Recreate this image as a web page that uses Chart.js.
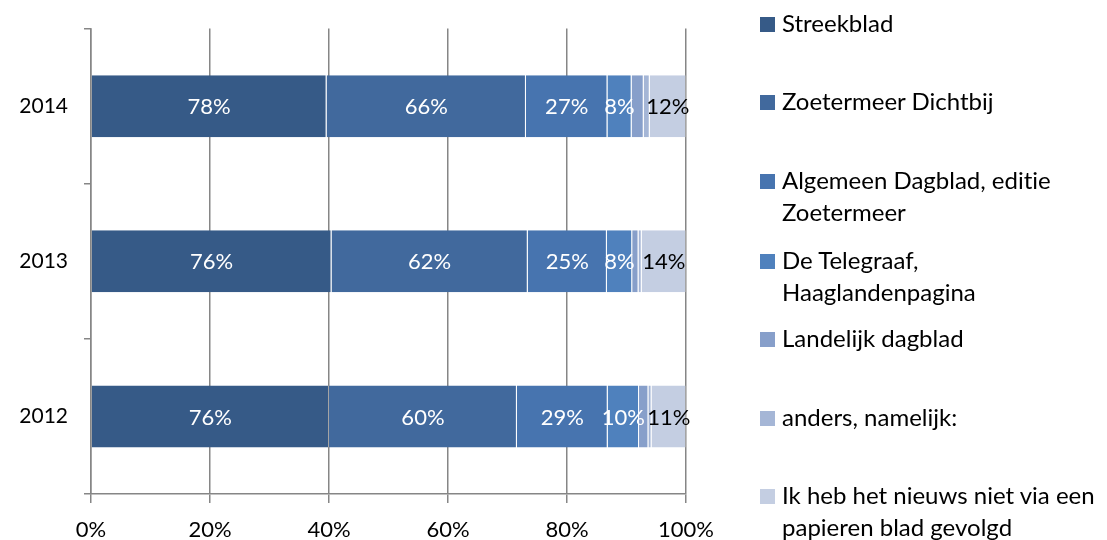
<!DOCTYPE html>
<html><head><meta charset="utf-8">
<script src="https://cdn.jsdelivr.net/npm/chart.js@4/dist/chart.umd.min.js"></script>
<style>
html,body{margin:0;padding:0;background:#fff;}
#wrap{position:relative;width:1107px;height:540px;overflow:hidden;}
canvas{position:absolute;left:0;top:0;}
.lg{position:absolute;left:760px;font-family:Lato,"Open Sans",sans-serif;font-size:24px;color:#000;line-height:32px;font-variant-ligatures:none;}
.lg .sw{position:absolute;left:0;top:10px;width:15px;height:15px;}
.lg .tx{position:absolute;left:22px;top:0;white-space:nowrap;}
</style></head><body>
<div id="wrap"><canvas id="c" width="1107" height="540"></canvas><div id="legend"></div></div>
<script>
const years = ['2014', '2013', '2012'];
const seriesNames = ['Streekblad', 'Zoetermeer Dichtbij', 'Algemeen Dagblad, editie Zoetermeer', 'De Telegraaf, Haaglandenpagina', 'Landelijk dagblad', 'anders, namelijk:', 'Ik heb het nieuws niet via een papieren blad gevolgd'];
const streekblad = [78, 76, 76];
const dichtbij = [66, 62, 60];
const algemeenDagblad = [27, 25, 29];
const telegraaf = [8, 8, 10];
const landelijk = [4, 2, 3];
const anders = [2, 1, 1];
const nietGevolgd = [12, 14, 11];
const xTicks = ['0%', '20%', '40%', '60%', '80%', '100%'];
const showLabel = [true, true, true, true, false, false, true];
const colors = ['#365A87', '#41699D', '#4774AF', '#4F81BD', '#879FCA', '#A5B6D6', '#C4CEE2'];
const labelColors = ['#fff', '#fff', '#fff', '#fff', '#fff', '#fff', '#000'];

const raw = [streekblad, dichtbij, algemeenDagblad, telegraaf, landelijk, anders, nietGevolgd];
const totals = years.map((_, i) => raw.reduce((s, a) => s + a[i], 0));
const FONT = 'Lato, "Open Sans", sans-serif';

const datasets = raw.map((arr, k) => ({
  label: seriesNames[k],
  data: arr.map((v, i) => v / totals[i] * 100),
  rawData: arr,
  backgroundColor: colors[k],
  borderColor: 'rgba(255,255,255,0.25)',
  borderWidth: { left: 0, right: 1, top: 0, bottom: 0 },
  borderSkipped: false,
  barPercentage: 0.4,
  categoryPercentage: 1
}));

const labelPlugin = {
  id: 'vals',
  afterDatasetsDraw(chart) {
    const ctx = chart.ctx;
    ctx.save();
    ctx.font = '22px ' + FONT;
    ctx.textAlign = 'center';
    ctx.textBaseline = 'middle';
    chart.data.datasets.forEach((ds, k) => {
      if (!showLabel[k]) return;
      const meta = chart.getDatasetMeta(k);
      meta.data.forEach((bar, i) => {
        const cx = (bar.x + bar.base) / 2;
        ctx.fillStyle = labelColors[k];
        ctx.fillText(ds.rawData[i] + '%', cx, bar.y + 1);
      });
    });
    ctx.restore();
  }
};

new Chart(document.getElementById('c'), {
  type: 'bar',
  data: { labels: years, datasets },
  options: {
    indexAxis: 'y',
    responsive: false,
    animation: false,
    layout: { padding: { left: 0, right: 421, top: 25, bottom: 0 } },
    plugins: { legend: { display: false }, tooltip: { enabled: false } },
    scales: {
      x: {
        stacked: true, min: 0, max: 100,
        ticks: { stepSize: 20, color: '#000', font: { family: FONT, size: 22 }, padding: 14,
          callback: (v, i) => xTicks[i] },
        grid: { color: '#868686', lineWidth: 1.5, tickLength: 9, drawTicks: true },
        border: { color: '#868686', width: 1.5 },
        afterFit: s => { s.height = 46; }
      },
      y: {
        stacked: true,
        offset: true,
        ticks: { color: '#000', font: { family: FONT, size: 21 }, padding: 16 },
        grid: { offset: true, drawOnChartArea: false, color: '#868686', lineWidth: 1.5, tickLength: 7 },
        border: { color: '#868686', width: 1.5 },
        afterFit: s => { s.width = 91; }
      }
    }
  },
  plugins: [labelPlugin]
});

// legend (HTML text)
const legendRows = [
  { top: 7, lines: ['Streekblad'] },
  { top: 85, lines: ['Zoetermeer Dichtbij'] },
  { top: 164, lines: ['Algemeen Dagblad, editie', 'Zoetermeer'] },
  { top: 244, lines: ['De Telegraaf,', 'Haaglandenpagina'] },
  { top: 322, lines: ['Landelijk dagblad'] },
  { top: 401, lines: ['anders, namelijk:'] },
  { top: 479, lines: ['Ik heb het nieuws niet via een', 'papieren blad gevolgd'] }
];
const lg = document.getElementById('legend');
legendRows.forEach((r, k) => {
  const d = document.createElement('div');
  d.className = 'lg';
  d.style.top = r.top + 'px';
  d.innerHTML = '<div class="sw" style="background:' + colors[k] + '"></div><div class="tx">' + r.lines.join('<br>') + '</div>';
  lg.appendChild(d);
});
</script>
</body></html>
